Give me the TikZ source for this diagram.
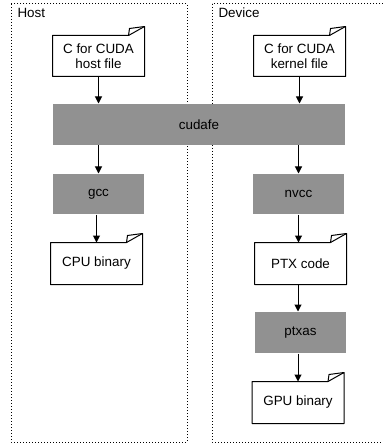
\documentclass[tikz,border=0pt]{standalone}
\usepackage{fontspec}
\setmainfont{Liberation Sans}
\usetikzlibrary{arrows.meta}
\definecolor{stepgray}{RGB}{145,145,145}
\begin{document}
\begin{tikzpicture}[x=1pt, y=-1pt, line width=1pt,
  font=\fontsize{13.4}{15}\selectfont,
  stepbox/.style={fill=stepgray, draw=none, minimum width=91pt, minimum height=40pt, inner sep=0pt},
  filebox/.style={fill=white, draw=none, minimum width=91pt, minimum height=40pt, inner sep=0pt, align=center},
  side/.style={dash pattern=on 1pt off 2pt},
  flow/.style={-{Triangle[length=7pt, width=7pt]}}]
 \useasboundingbox (0,0) rectangle (382,446);
 \draw[side] (11,4) rectangle (187,442);
 \draw[side] (212,4) rectangle (392,442);
 \node[anchor=base west, inner sep=0pt] (hostlabel) at (17,18) {Host};
 \node[anchor=base west, inner sep=0pt] (devlabel) at (218,18) {Device};
%
 \node[filebox] (hostsrc) at (98.5,56) {C for CUDA\\host file};
 \node[filebox] (kernsrc) at (299.5,56) {C for CUDA\\kernel file};
 \node[stepbox, minimum width=292pt, minimum height=41pt] (cudafe) at (199,124.5) {cudafe};
 \node[stepbox] (gcc) at (98.5,194) {gcc};
 \node[stepbox] (nvcc) at (298.5,194) {nvcc};
 \node[filebox, minimum height=41pt] (cpubin) at (96.5,263.5) {CPU binary};
 \node[filebox, minimum height=41pt] (ptx) at (300.5,263.5) {PTX code};
 \node[stepbox, minimum height=41pt] (ptxas) at (300.5,332.5) {ptxas};
 \node[filebox, minimum height=41pt] (gpubin) at (298,402.5) {GPU binary};
%
 \foreach \f in {hostsrc,kernsrc,cpubin,ptx,gpubin} {
  \draw[line join=round] (\f.north west) -- ([xshift=-16pt]\f.north east) -- ([yshift=9pt]\f.north east)
    -- (\f.south east) -- (\f.south west) -- cycle;
  \draw[line join=round] ([xshift=-16pt]\f.north east) -- ([xshift=-15pt, yshift=7pt]\f.north east) -- ([yshift=9pt]\f.north east);
 }
%
 \draw[flow] (hostsrc) -- (hostsrc |- cudafe.north);
 \draw[flow] (kernsrc) -- (kernsrc |- cudafe.north);
 \draw[flow] (cudafe.south -| gcc) -- (gcc);
 \draw[flow] (cudafe.south -| nvcc) -- (nvcc);
 \draw[flow] (gcc.south -| cpubin) -- (cpubin);
 \draw[flow] (nvcc) -- (nvcc |- ptx.north);
 \draw[flow] (ptx.south -| gpubin) -- (ptxas.north -| gpubin);
 \draw[flow] (ptxas.south -| gpubin) -- (gpubin);
\end{tikzpicture}
\end{document}
